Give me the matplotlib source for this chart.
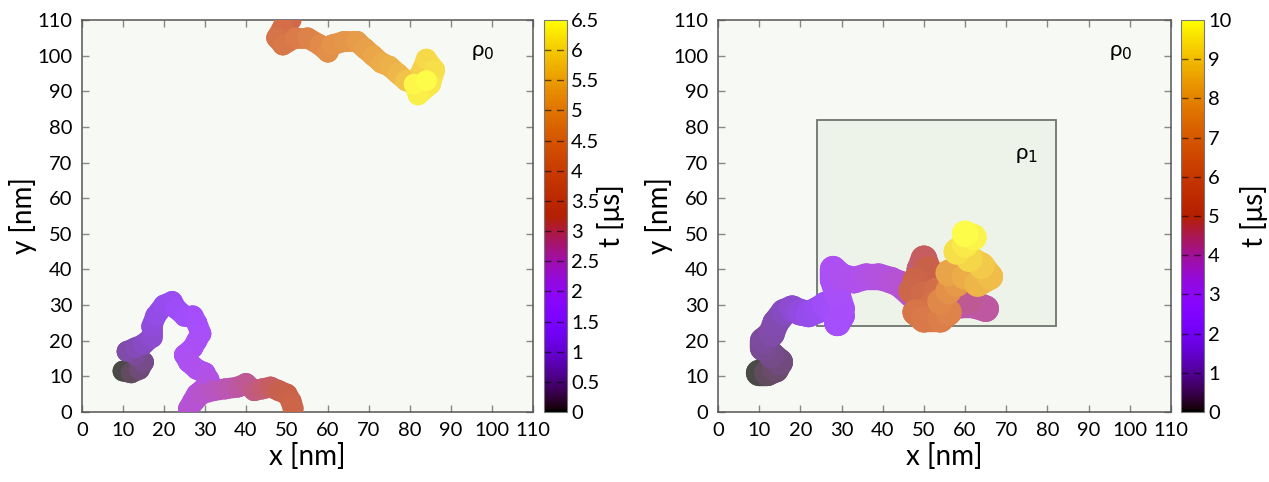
import numpy as np
import matplotlib.pyplot as plt
from matplotlib.collections import LineCollection
from matplotlib.colors import ListedColormap, Normalize
from matplotlib.patches import Rectangle
from matplotlib.ticker import FormatStrFormatter

plt.rcParams["font.family"] = ["Lato", "DejaVu Sans"]

# left panel: trajectory in rho0, wraps from bottom edge to top edge
left_a_x = [10, 12, 14, 15, 13, 11, 13, 15, 17, 17, 18, 20, 22, 23, 25, 27, 28, 29, 28, 27,
            25, 26, 28, 30, 31, 30, 28, 27, 26, 29, 32, 35, 38, 40, 42, 44, 46, 48, 50, 51, 51.5]
left_a_y = [11.5, 11, 12, 14, 16, 17, 18, 19, 21, 24, 27, 30, 31, 29, 27, 27, 25, 22, 20, 18,
            16, 14, 12, 11, 9, 7, 5, 3, 1, 5, 6, 6.5, 7, 8, 6, 6.5, 7, 6, 5, 3, 1]
left_a_t = [0.0, 0.15, 0.3, 0.4, 0.5, 0.6, 0.7, 0.8, 0.9, 1.0, 1.1, 1.2, 1.3, 1.4, 1.5, 1.6,
            1.7, 1.8, 1.85, 1.9, 1.95, 2.0, 2.05, 2.1, 2.15, 2.2, 2.25, 2.3, 2.35, 2.4, 2.5,
            2.6, 2.7, 2.8, 2.9, 3.0, 3.1, 3.2, 3.3, 3.4, 3.5]

left_b_x = [51, 49, 47.5, 49, 52, 55, 58, 60, 61, 64, 67, 69, 71, 73, 75, 77, 79, 81, 83, 84,
            86, 85, 82, 81, 84]
left_b_y = [110, 108, 105, 103, 105, 105, 103, 101, 103, 104, 104, 102, 100, 98, 97, 95, 93,
            92, 96, 99, 96, 92, 89, 92, 93]
left_b_t = [3.6, 3.8, 4.0, 4.1, 4.2, 4.4, 4.6, 4.7, 4.8, 4.9, 5.0, 5.1, 5.2, 5.3, 5.4, 5.5,
            5.7, 5.8, 5.9, 6.0, 6.1, 6.2, 6.3, 6.4, 6.5]

# right panel: trajectory with rho1 region
right_x = [10, 12, 14, 15, 13, 11, 11, 13, 14, 16, 18, 20, 22, 24, 26, 28, 30, 29, 30, 29,
           28, 28, 30, 33, 36, 39, 42, 44, 47, 51, 55, 59, 62, 65, 61, 56, 52, 49, 50, 51,
           48, 47, 50, 53, 52, 48, 50, 54, 56, 54, 56, 58, 56, 60, 63, 66, 64, 61, 58, 60,
           62, 60]
right_y = [11, 11, 12, 14, 16, 18, 20, 22, 25, 28, 29, 28, 27.5, 28.5, 30, 28, 27, 25, 29, 33,
           37, 40, 38, 37, 38, 38, 37, 36, 33, 32, 31, 30, 30, 29, 31, 33, 36, 40, 43, 40,
           37, 34, 33, 34, 30, 28, 26, 26, 28, 31, 34, 36, 39, 38, 36, 38, 41, 43, 45, 47,
           49, 50]
right_t = [0.0, 0.2, 0.35, 0.5, 0.6, 0.7, 0.8, 0.9, 1.0, 1.2, 1.4, 1.6, 1.8, 2.0, 2.2, 2.4,
           2.5, 2.6, 2.7, 2.8, 2.9, 3.0, 3.1, 3.2, 3.3, 3.4, 3.5, 3.6, 3.7, 3.8, 3.9, 4.0,
           4.1, 4.2, 4.3, 4.4, 4.5, 4.6, 4.8, 5.0, 5.2, 5.4, 5.6, 5.8, 6.0, 6.2, 6.4, 6.6,
           6.8, 7.0, 7.3, 7.6, 7.9, 8.2, 8.4, 8.6, 8.9, 9.2, 9.4, 9.6, 9.8, 10.0]

left_ticks = [0, 0.5, 1, 1.5, 2, 2.5, 3, 3.5, 4, 4.5, 5, 5.5, 6, 6.5]
right_ticks = [0, 1, 2, 3, 4, 5, 6, 7, 8, 9, 10]
axis_ticks = list(range(0, 111, 10))

bg = np.array([0.969, 0.976, 0.957])
cmap = plt.get_cmap("gnuplot")
base = cmap(np.linspace(0, 1, 256))[:, :3]
faded = ListedColormap(0.7 * base + 0.3 * bg)

fig = plt.figure(figsize=(12.69, 4.82), dpi=100)


def draw_path(ax, xs, ys, ts, norm, lw):
    pts = np.column_stack([xs, ys])
    segs = np.stack([pts[:-1], pts[1:]], axis=1)
    tmid = 0.5 * (np.array(ts[:-1]) + np.array(ts[1:]))
    lc = LineCollection(segs, colors=faded(norm(tmid)), linewidths=lw,
                        capstyle="round", joinstyle="round", zorder=3)
    ax.add_collection(lc)
    ax.scatter(xs, ys, c=faded(norm(np.array(ts))), s=lw ** 2,
               marker="o", linewidths=0, zorder=3)


def style_axes(ax):
    ax.set_facecolor(bg)
    ax.set_xlim(0, 110)
    ax.set_ylim(0, 110)
    ax.set_xticks(axis_ticks)
    ax.set_yticks(axis_ticks)
    ax.tick_params(direction="in", length=5, width=1, color="#888888",
                   top=True, right=True, labelsize=14.5, pad=7)
    for s in ax.spines.values():
        s.set_color("#555555")
        s.set_linewidth(1.1)
    ax.set_xlabel("x [nm]", fontsize=20, labelpad=3)
    ax.set_ylabel("y [nm]", fontsize=20, labelpad=0)
    ax.text(95, 100, r"ρ$_0$", fontsize=16)


def add_cbar(cax, vmax, ticks, pad):
    norm = Normalize(0, vmax)
    sm = plt.cm.ScalarMappable(norm=norm, cmap=cmap)
    cb = fig.colorbar(sm, cax=cax, ticks=ticks)
    cb.ax.yaxis.set_major_formatter(FormatStrFormatter("%g"))
    cb.outline.set_edgecolor("#777777")
    cb.ax.tick_params(length=0, labelsize=14.5, pad=3)
    cb.ax.hlines(ticks[1:-1], 0, 1, colors="k", linestyles=(0, (5, 4)),
                 linewidth=1.0, alpha=0.6)
    cb.set_label("t [μs]", fontsize=20, labelpad=pad)
    return norm


# left panel
ax1 = fig.add_axes([0.0646, 0.1452, 0.3554, 0.8133])
cax1 = fig.add_axes([0.4287, 0.1452, 0.0181, 0.8133])
style_axes(ax1)
norm1 = add_cbar(cax1, 6.5, left_ticks, -2)
draw_path(ax1, left_a_x, left_a_y, left_a_t, norm1, 15)
draw_path(ax1, left_b_x, left_b_y, left_b_t, norm1, 15)

# right panel
ax2 = fig.add_axes([0.5658, 0.1452, 0.357, 0.8133])
cax2 = fig.add_axes([0.9307, 0.1452, 0.0181, 0.8133])
style_axes(ax2)
norm2 = add_cbar(cax2, 10, right_ticks, 6)
ax2.add_patch(Rectangle((24, 24), 58, 58, facecolor="#eef3ea", edgecolor="#6f746f",
                        linewidth=1.3, zorder=1))
ax2.text(72, 71, r"ρ$_1$", fontsize=16, zorder=4)
draw_path(ax2, right_x, right_y, right_t, norm2, 19)

fig.savefig("out.png", dpi=100)
